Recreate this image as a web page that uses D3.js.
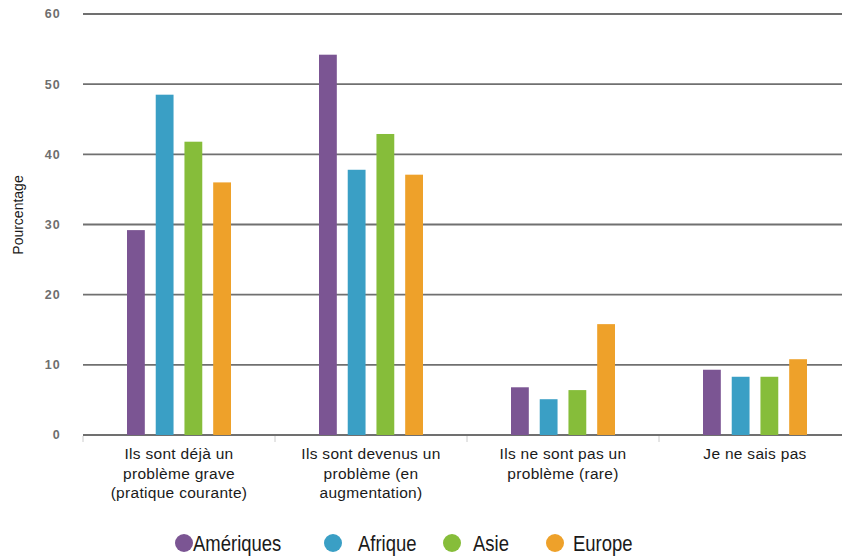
<!DOCTYPE html>
<html><head><meta charset="utf-8">
<script src="https://cdn.jsdelivr.net/npm/d3@7"></script>
<style>body{margin:0;background:#fff}svg{display:block}</style>
</head><body>
<svg id="c" width="842" height="558"></svg>
<script>
const categories = [
  ["Ils sont déjà un", "problème grave", "(pratique courante)"],
  ["Ils sont devenus un", "problème (en", "augmentation)"],
  ["Ils ne sont pas un", "problème (rare)"],
  ["Je ne sais pas"]
];
const seriesNames = ["Amériques", "Afrique", "Asie", "Europe"];
const seriesColors = ["#7b5593", "#3a9fc5", "#86bd3a", "#eea12a"];
const ameriques = [29.2, 54.2, 6.8, 9.3];
const afrique = [48.5, 37.8, 5.1, 8.3];
const asie = [41.8, 42.9, 6.4, 8.3];
const europe = [36.0, 37.1, 15.8, 10.8];
const yTicks = [0, 10, 20, 30, 40, 50, 60];
const seriesValues = [ameriques, afrique, asie, europe];

const svg = d3.select("#c");
const x = d3.scaleBand().domain(d3.range(categories.length)).range([83, 851]);
const xs = d3.scaleBand().domain(d3.range(seriesNames.length)).range([44, 148]).paddingInner(0.38);
const y = d3.scaleLinear().domain([0, 60]).range([435, 14]);

// gridlines
svg.append("g").selectAll("line").data(yTicks).join("line")
  .attr("x1", 83).attr("x2", 851)
  .attr("y1", d => y(d)).attr("y2", d => y(d))
  .attr("stroke", "#707070").attr("stroke-width", 1.8);

// y tick labels
svg.append("g").selectAll("text").data(yTicks).join("text")
  .attr("x", 61).attr("y", d => y(d)).attr("dy", "0.35em")
  .attr("text-anchor", "end")
  .attr("font-family", "Liberation Sans, Arial, sans-serif")
  .attr("font-weight", "bold").attr("font-size", 12.5).attr("letter-spacing", 1.2).attr("fill", "#6e6e6e")
  .text(d => d);

// category ticks
svg.append("g").selectAll("line").data(d3.range(categories.length + 1)).join("line")
  .attr("x1", i => 83 + i * x.bandwidth()).attr("x2", i => 83 + i * x.bandwidth())
  .attr("y1", 436).attr("y2", 442)
  .attr("stroke", "#cccccc").attr("stroke-width", 1);

// bars
seriesValues.forEach((vals, s) => {
  svg.append("g").selectAll("rect").data(vals).join("rect")
    .attr("x", (d, i) => x(i) + xs(s))
    .attr("width", xs.bandwidth())
    .attr("y", d => y(d))
    .attr("height", d => y(0) - y(d))
    .attr("fill", seriesColors[s]);
});

// category labels
const cl = svg.append("g").selectAll("text").data(categories).join("text")
  .attr("x", (d, i) => x(i) + x.bandwidth() / 2)
  .attr("y", 459)
  .attr("text-anchor", "middle")
  .attr("font-family", "Liberation Sans, Arial, sans-serif")
  .attr("font-size", 15.5).attr("letter-spacing", 0.3).attr("fill", "#1a1a1a");
cl.each(function(lines) {
  d3.select(this).selectAll("tspan").data(lines).join("tspan")
    .attr("x", d3.select(this).attr("x"))
    .attr("dy", (d, j) => j === 0 ? 0 : 19.5)
    .text(d => d);
});

// y axis title
svg.append("text")
  .attr("transform", "translate(23,215) rotate(-90)")
  .attr("text-anchor", "middle")
  .attr("font-family", "Liberation Sans, Arial, sans-serif")
  .attr("font-size", 14).attr("fill", "#1a1a1a")
  .text("Pourcentage");

// legend
const legendX = [184, 333, 452, 555];
const textX = [193, 358, 473, 573];
const lg = svg.append("g").selectAll("g").data(seriesNames).join("g");
lg.append("circle")
  .attr("cx", (d, i) => legendX[i]).attr("cy", 543).attr("r", 9)
  .attr("fill", (d, i) => seriesColors[i]);
lg.append("text")
  .attr("transform", (d, i) => `translate(${textX[i]},550.5) scale(0.86,1)`)
  .attr("font-family", "Liberation Sans, Arial, sans-serif")
  .attr("font-size", 21.5).attr("fill", "#1a1a1a")
  .text(d => d);
</script>
</body></html>
